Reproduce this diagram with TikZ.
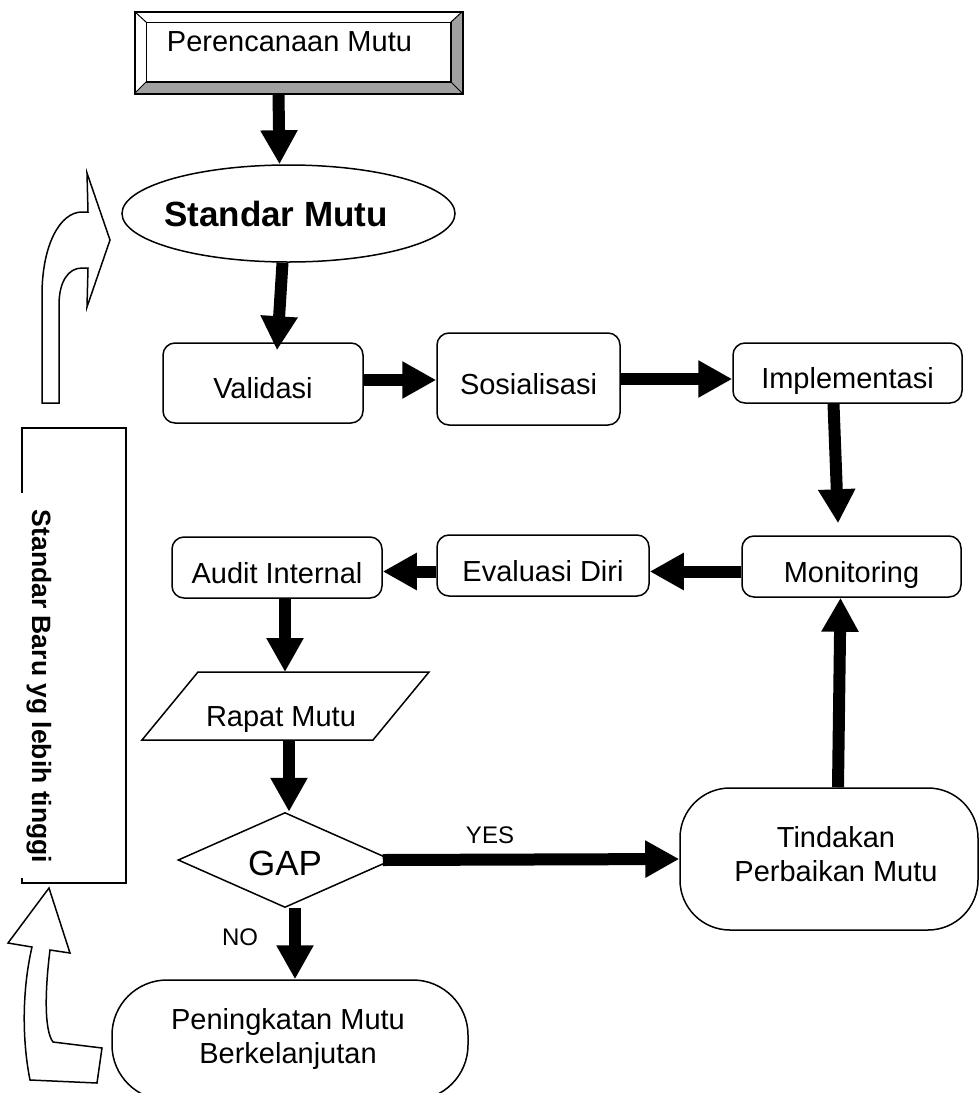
\documentclass[tikz,border=0pt]{standalone}
\usepackage{fontspec}
\setmainfont{Liberation Sans}
\usetikzlibrary{shapes.geometric,arrows.meta}
\definecolor{bevelgray}{RGB}{160,160,160}
\begin{document}
\begin{tikzpicture}[x=1pt,y=-1pt,
  outl/.style={line width=1.5pt},
  txtlow/.style={text height=31pt, text depth=0pt},
  box/.style={draw, outl, rounded corners=12pt, font=\fontsize{29}{34}\selectfont, inner sep=0pt, txtlow},
  lbl/.style={font=\fontsize{29}{34}\selectfont, inner sep=0pt},
  small/.style={font=\fontsize{24}{28}\selectfont, inner sep=0pt},
  fat/.style={line width=12pt, -{Triangle[length=34pt,width=35pt]}},
  hollow/.style={outl, fill=white, line join=miter},
]
\useasboundingbox (0,0) rectangle (979,1093);
\clip (0,0) rectangle (979,1093);

% ---- bevelled top box
\node[draw, outl, minimum width=327pt, minimum height=81pt, inner sep=0pt] (plan) at (298.5,52.5) {};
\fill[bevelgray] (plan.north east) -- (plan.south east) -- ([xshift=-12pt,yshift=12pt]plan.south east) -- ([xshift=-12pt,yshift=-11pt]plan.north east) -- cycle;
\fill[bevelgray] (plan.south west) -- (plan.south east) -- ([xshift=-12pt,yshift=12pt]plan.south east) -- ([xshift=12pt,yshift=12pt]plan.south west) -- cycle;
\draw[outl] ([xshift=12pt,yshift=-11pt]plan.north west) rectangle ([xshift=-12pt,yshift=12pt]plan.south east);
\draw[line width=1pt] (plan.north west) -- ([xshift=12pt,yshift=-11pt]plan.north west)
  (plan.north east) -- ([xshift=-12pt,yshift=-11pt]plan.north east)
  (plan.south west) -- ([xshift=12pt,yshift=12pt]plan.south west)
  (plan.south east) -- ([xshift=-12pt,yshift=12pt]plan.south east);
\draw[outl] (plan.north west) rectangle (plan.south east);
\node[lbl] (plantxt) at (289.5,42) {Perencanaan Mutu};

% ---- main nodes
\node[ellipse, draw, outl, minimum width=333pt, minimum height=97pt, inner sep=0pt] (std) at (288.5,213.5) {};
\node[inner sep=0pt, font=\bfseries\fontsize{35}{40}\selectfont] (stdtxt) at (276,214) {Standar Mutu};
\node[box, minimum width=200pt, minimum height=80pt] (vali) at (263,383) {Validasi};
\node[box, minimum width=183pt, minimum height=92pt] (sos) at (528.5,379) {Sosialisasi};
\node[box, minimum width=229pt, minimum height=60pt] (impl) at (847.5,373) {Implementasi};
\node[box, minimum width=219pt, minimum height=61pt] (moni) at (851.5,566.5) {Monitoring};
\node[box, minimum width=212pt, minimum height=61pt] (eval) at (543,565.5) {Evaluasi Diri};
\node[box, minimum width=210pt, minimum height=61pt] (audit) at (277,567.5) {Audit Internal};

% Rapat Mutu parallelogram
\draw[outl] (142,740) -- (198,672) -- (429,672) -- (373,740) -- cycle;
\node[lbl, txtlow] (rapat) at (281,711) {Rapat Mutu};
\coordinate (rtop) at (285,672);
\coordinate (rbot) at (289,740);

\node[diamond, draw, outl, minimum width=214pt, minimum height=95pt, inner sep=0pt, aspect=2.25,
      font=\fontsize{35}{40}\selectfont, txtlow] (gap) at (285,860) {GAP};
\node[draw, outl, rounded corners=50pt, minimum width=298pt, minimum height=142pt] (tind) at (829,859) {};
\node[lbl, align=center] (tindtxt) at (836,854) {Tindakan\\Perbaikan Mutu};
\node[draw, outl, rounded corners=55pt, minimum width=356pt, minimum height=120pt] (pen) at (290,1040) {};
\node[lbl, align=center] (pentxt) at (288,1039) {Peningkatan Mutu\\Berkelanjutan};

% ---- fat arrows
\draw[fat] ([xshift=-20pt]plan.south) -- ([xshift=-9pt]std.north);
\draw[fat] ([xshift=-6pt]std.south) -- ([xshift=14pt,yshift=-8pt]vali.north);
\draw[fat] ([yshift=3pt]vali.east) -- ([yshift=3pt]vali.east -| sos.west);
\draw[fat] (sos.east) -- (sos.east -| impl.west);
\draw[fat, shorten >=12pt] ([xshift=-14pt]impl.south) -- ([xshift=-13pt]moni.north);
\draw[fat] ([yshift=-5pt]moni.west) -- ([yshift=-5pt]moni.west -| eval.east);
\draw[fat] ([yshift=-6pt]eval.west) -- ([yshift=-6pt]eval.west -| audit.east);
\draw[fat] ([xshift=8pt]audit.south) -- (rtop);
\draw[fat] (rbot) -- (rbot |- gap.north);
\draw[fat] ([xshift=-10pt]gap.east) -- (tind.west);
\draw[fat] ([xshift=9pt]tind.north) -- ([xshift=-11pt]moni.south);
\draw[fat] ([xshift=10pt]gap.south) -- ([xshift=5pt]pen.north);
\node[small] (yes) at (490,835) {YES};
\node[small] (no) at (240,937) {NO};

% ---- side box with vertical text
\draw[outl] (22,493) -- (22,428) -- (126,428) -- (126,883) -- (22,883) -- (22,878);
\node[rotate=-90, anchor=base, inner sep=0pt, font=\bfseries\fontsize{26.5}{31}\selectfont] (newstd) at (32,686.5) {Standar Baru yg lebih tinggi};

% ---- hollow curved arrows
\draw[hollow] (42,403) -- (42,295) .. controls (42,245) and (60,212) .. (82,212) -- (88,212) -- (87,173)
  -- (110,240) -- (87,307) -- (88,268) -- (82,268) .. controls (68,268) and (59,282) .. (59,305) -- (59,403) -- cycle;
\draw[hollow] (49,888) -- (70,953) -- (50,950) .. controls (45,990) and (44,1030) .. (53,1042) -- (102,1048)
  -- (97,1083) -- (30,1080) .. controls (22,1040) and (22,990) .. (32,947) -- (8,943) -- cycle;
\end{tikzpicture}
\end{document}
